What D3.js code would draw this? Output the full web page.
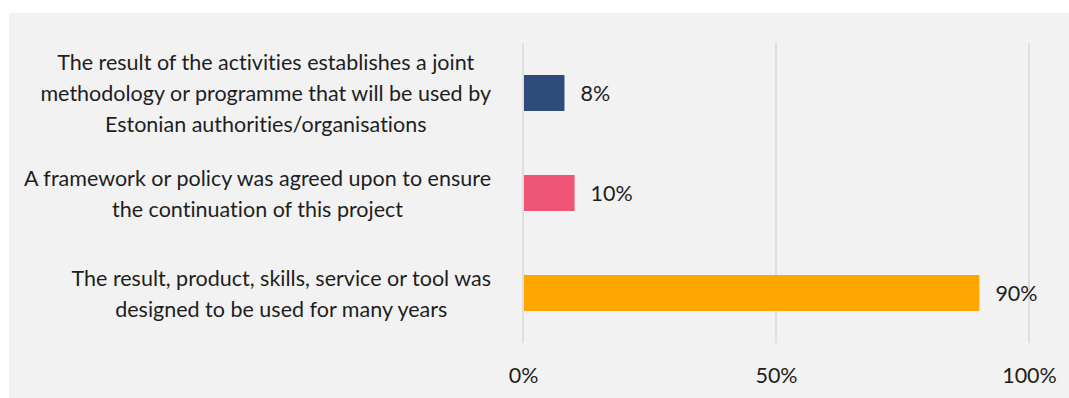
<!DOCTYPE html>
<html>
<head>
<meta charset="utf-8">
<script src="https://cdn.jsdelivr.net/npm/d3@7"></script>
<style>
  html, body { margin: 0; padding: 0; background: #ffffff; }
  svg { display: block; }
  text {
    font-family: "Lato", "DejaVu Sans", sans-serif;
    fill: #1e1e1e;
    font-variant-ligatures: none;
    font-feature-settings: "liga" 0, "clig" 0;
  }
</style>
</head>
<body>
<svg id="chart" width="1069" height="398"></svg>
<script>
// Category labels, one entry per wrapped line
const categories = [
  ["The result of the activities establishes a joint",
   "methodology or programme that will be used by",
   "Estonian authorities/organisations"],
  ["A framework or policy was agreed upon to ensure",
   "the continuation of this project"],
  ["The result, product, skills, service or tool was",
   "designed to be used for many years"]
];
const values = [0.08, 0.10, 0.90];
const valueLabels = ["8%", "10%", "90%"];
const barColors = ["#2f4b7c", "#ef5675", "#ffa600"];
const tickValues = [0, 0.5, 1];
const tickLabels = ["0%", "50%", "100%"];

const svg = d3.select("#chart");
const W = 1069, H = 398;
const fontSize = 21.5;

// panel background
svg.append("rect")
  .attr("x", 9).attr("y", 13)
  .attr("width", W - 9).attr("height", H - 13)
  .attr("fill", "#f2f2f2");

const x = d3.scaleLinear().domain([0, 1]).range([523, 1029]);
const y = d3.scaleBand()
  .domain(d3.range(categories.length))
  .range([43, 343])
  .paddingInner(0.64)
  .paddingOuter(0.32);

// vertical gridlines
svg.append("g")
  .selectAll("line")
  .data(tickValues)
  .join("line")
  .attr("x1", d => x(d)).attr("x2", d => x(d))
  .attr("y1", 43).attr("y2", 343)
  .attr("stroke", "#d9d9d9")
  .attr("stroke-width", 1.5);

// x axis tick labels
const xAxis = d3.axisBottom(x)
  .tickValues(tickValues)
  .tickFormat((d, i) => tickLabels[i])
  .tickSize(0)
  .tickPadding(0);
const gx = svg.append("g")
  .attr("transform", "translate(0,383)")
  .call(xAxis);
gx.select(".domain").remove();
gx.selectAll("text")
  .attr("dy", 0)
  .attr("font-size", fontSize)
  .attr("font-family", null)
  .attr("fill", null);
gx.attr("font-family", null).attr("font-size", null);

// bars
svg.append("g")
  .selectAll("rect")
  .data(values)
  .join("rect")
  .attr("x", x(0) + 1)
  .attr("y", (d, i) => y(i))
  .attr("width", d => x(d) - x(0))
  .attr("height", y.bandwidth())
  .attr("fill", (d, i) => barColors[i]);

// value labels
svg.append("g")
  .selectAll("text")
  .data(values)
  .join("text")
  .attr("x", d => x(d) + 17)
  .attr("y", (d, i) => y(i) + y.bandwidth() / 2 + 8)
  .attr("font-size", fontSize)
  .text((d, i) => valueLabels[i]);

// category labels: lines centred within a block that is right-aligned to the axis
const lineH = 31;
const labelRight = x(0) - 32;
const catG = svg.append("g");
categories.forEach((lines, i) => {
  const g = catG.append("g");
  const texts = g.selectAll("text")
    .data(lines)
    .join("text")
    .attr("font-size", fontSize)
    .attr("text-anchor", "middle")
    .text(d => d);
  const maxW = d3.max(texts.nodes(), n => n.getComputedTextLength());
  const cx = labelRight - maxW / 2;
  const cy = y(i) + y.bandwidth() / 2;
  const top = cy - (lines.length - 1) * lineH / 2;
  texts.attr("x", cx).attr("y", (d, j) => top + j * lineH + 8);
});
</script>
</body>
</html>
